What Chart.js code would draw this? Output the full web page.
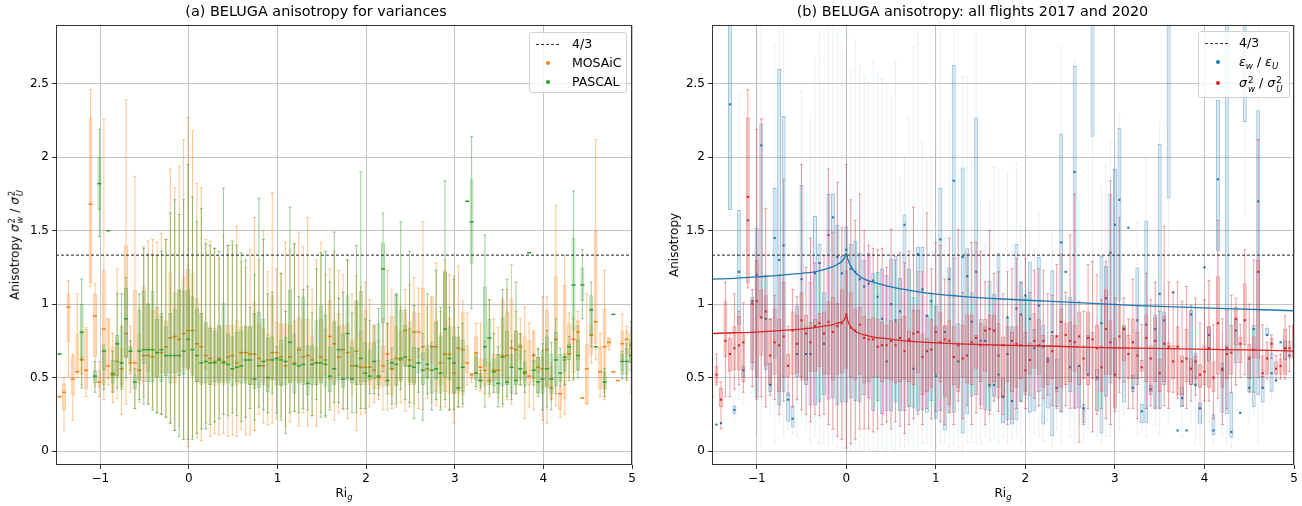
<!DOCTYPE html>
<html>
<head>
<meta charset="utf-8">
<title>BELUGA anisotropy</title>
<script src="https://cdn.jsdelivr.net/npm/chart.js@4.4.1/dist/chart.umd.min.js"></script>
<style>
  body { margin: 0; background: #fff; font-family: "DejaVu Sans", sans-serif; }
  #wrap { position: relative; width: 1302px; height: 506px; overflow: hidden; }
  .panel { position: absolute; top: 0; width: 651px; height: 506px; }
  .axlab { position: absolute; font-size: 12px; color: #000; white-space: nowrap; transform: translate(-50%, -50%); }
  .ylab { transform: translate(-50%, -50%) rotate(-90deg); }
  .ss { display: inline-flex; flex-direction: column; font-size: 0.7em; line-height: 0.95; vertical-align: 0.42em; margin-left: 1px; }
  .sub { font-size: 0.7em; vertical-align: -0.3em; }
  .legend { position: absolute; background: rgba(255,255,255,0.8); border: 1px solid #d0d0d0; border-radius: 3px; font-size: 12.5px; }
  .legend .row { position: absolute; left: 0; height: 18px; line-height: 18px; white-space: nowrap; }
  .legend .dash { position: absolute; top: 9px; height: 1px; background: repeating-linear-gradient(to right, #333 0 3px, transparent 3px 5px); }
  .legend .dot { position: absolute; top: 7px; width: 4px; height: 4px; border-radius: 2px; }
  .legend .txt { position: absolute; }
</style>
</head>
<body>
<div id="wrap">
  <div class="panel" style="left:0"><canvas id="chartA"></canvas></div>
  <div class="panel" style="left:651px"><canvas id="chartB"></canvas></div>

  <div class="axlab ylab" style="left:16px;top:245px">Anisotropy <i>σ</i><span class="ss"><span>2</span><span><i>w</i></span></span> / <i>σ</i><span class="ss"><span>2</span><span><i>U</i></span></span></div>
  <div class="axlab" style="left:344px;top:494px">Ri<span class="sub"><i>g</i></span></div>
  <div class="axlab ylab" style="left:674px;top:245px">Anisotropy</div>
  <div class="axlab" style="left:1003px;top:494px">Ri<span class="sub"><i>g</i></span></div>

  <div class="legend" style="left:529px;top:32px;width:96px;height:59px">
    <div class="row" style="top:2px"><div class="dash" style="left:6px;width:24px"></div><span class="txt" style="left:42px">4/3</span></div>
    <div class="row" style="top:21px"><div class="dot" style="left:16px;background:#ff7f0e"></div><span class="txt" style="left:42px">MOSAiC</span></div>
    <div class="row" style="top:40px"><div class="dot" style="left:16px;background:#2ca02c"></div><span class="txt" style="left:42px">PASCAL</span></div>
  </div>

  <div class="legend" style="left:1198px;top:31px;width:90px;height:65px">
    <div class="row" style="top:2px"><div class="dash" style="left:6px;width:24px"></div><span class="txt" style="left:40px">4/3</span></div>
    <div class="row" style="top:21px"><div class="dot" style="left:17px;background:#1f77b4"></div><span class="txt" style="left:40px"><i>ε</i><span class="sub"><i>w</i></span> / <i>ε</i><span class="sub"><i>U</i></span></span></div>
    <div class="row" style="top:42px"><div class="dot" style="left:17px;background:#d62728"></div><span class="txt" style="left:40px"><i>σ</i><span class="ss"><span>2</span><span><i>w</i></span></span> / <i>σ</i><span class="ss"><span>2</span><span><i>U</i></span></span></span></div>
  </div>
</div>

<script>
// Axis ticks and reference level
const riTicks = [-1, 0, 1, 2, 3, 4, 5];
const anisoTicks = [0, 0.5, 1, 1.5, 2, 2.5];
const isoRatio = 4 / 3;

// Box rows: [Ri_g, whisker low, Q1, median, Q3, whisker high]
const mosaicBoxes = [
  [-1.46, 0.37, 0.37, 0.37, 0.37, 0.37], [-1.41, 0.14, 0.28, 0.40, 0.46, 0.50],
  [-1.36, 0.51, 0.74, 0.98, 1.07, 1.16], [-1.31, 0.21, 0.38, 0.49, 0.65, 0.66],
  [-1.26, 0.50, 0.53, 0.54, 0.80, 1.07], [-1.21, 0.45, 0.52, 0.62, 0.64, 0.80],
  [-1.16, 0.37, 0.42, 0.55, 0.83, 0.84], [-1.11, 1.12, 1.14, 1.68, 2.27, 2.46],
  [-1.06, 0.44, 0.64, 0.92, 1.07, 1.14], [-1.01, 0.37, 0.43, 0.47, 0.55, 0.61],
  [-0.96, 0.35, 0.45, 0.83, 1.23, 2.26], [-0.91, 0.45, 0.49, 0.58, 0.90, 0.90],
  [-0.86, 0.33, 0.40, 0.53, 0.71, 0.80], [-0.81, 0.36, 0.50, 0.61, 0.75, 1.24],
  [-0.76, 0.25, 0.45, 0.56, 0.70, 0.85], [-0.71, 0.32, 0.63, 0.80, 1.40, 2.39],
  [-0.66, 0.40, 0.52, 0.60, 0.72, 0.85], [-0.61, 0.29, 0.52, 0.60, 1.10, 1.87],
  [-0.56, 0.33, 0.46, 0.55, 0.80, 0.98], [-0.51, 0.37, 0.47, 0.65, 1.12, 1.39],
  [-0.46, 0.32, 0.54, 0.65, 1.01, 1.43], [-0.41, 0.30, 0.51, 0.64, 0.96, 1.44],
  [-0.36, 0.26, 0.50, 0.67, 0.98, 1.42], [-0.31, 0.25, 0.53, 0.67, 0.92, 1.48],
  [-0.26, 0.23, 0.53, 0.71, 0.89, 1.44], [-0.21, 0.19, 0.53, 0.77, 1.22, 1.92],
  [-0.16, 0.14, 0.46, 0.78, 1.08, 1.79], [-0.11, 0.17, 0.54, 0.76, 1.10, 1.94],
  [-0.06, 0.08, 0.57, 0.80, 1.19, 2.12], [-0.01, 0.03, 0.55, 0.82, 1.24, 2.27],
  [0.04, 0.10, 0.53, 0.82, 1.21, 2.18], [0.09, 0.09, 0.47, 0.73, 1.04, 1.82],
  [0.14, 0.07, 0.45, 0.71, 0.94, 1.79], [0.19, 0.19, 0.55, 0.65, 0.87, 1.44],
  [0.24, 0.10, 0.45, 0.63, 0.85, 1.43], [0.29, 0.12, 0.44, 0.61, 0.84, 1.38],
  [0.34, 0.11, 0.48, 0.63, 0.85, 1.31], [0.39, 0.12, 0.45, 0.61, 0.85, 1.47],
  [0.44, 0.10, 0.48, 0.64, 0.86, 1.40], [0.49, 0.11, 0.51, 0.65, 0.86, 1.40],
  [0.54, 0.10, 0.45, 0.60, 0.89, 1.53], [0.59, 0.15, 0.50, 0.67, 0.85, 1.29],
  [0.64, 0.11, 0.48, 0.67, 0.85, 1.25], [0.69, 0.11, 0.45, 0.66, 0.85, 1.37],
  [0.74, 0.14, 0.45, 0.66, 1.02, 1.59], [0.79, 0.25, 0.50, 0.63, 0.87, 1.30],
  [0.84, 0.19, 0.47, 0.58, 0.84, 1.50], [0.89, 0.18, 0.44, 0.62, 0.80, 1.22],
  [0.94, 0.19, 0.49, 0.67, 1.06, 1.76], [0.99, 0.22, 0.48, 0.67, 0.88, 1.24],
  [1.04, 0.23, 0.45, 0.64, 0.87, 1.21], [1.09, 0.17, 0.49, 0.58, 0.87, 1.42],
  [1.14, 0.20, 0.47, 0.64, 0.86, 1.37], [1.19, 0.27, 0.48, 0.60, 0.89, 1.41],
  [1.24, 0.17, 0.47, 0.69, 0.91, 1.49], [1.29, 0.26, 0.47, 0.64, 0.90, 1.39],
  [1.34, 0.17, 0.47, 0.65, 0.90, 1.59], [1.39, 0.24, 0.50, 0.62, 0.78, 1.10],
  [1.44, 0.17, 0.45, 0.60, 0.71, 1.30], [1.49, 0.26, 0.48, 0.64, 0.90, 1.42],
  [1.54, 0.23, 0.51, 0.62, 0.83, 1.20], [1.59, 0.30, 0.48, 0.78, 1.03, 1.24],
  [1.64, 0.21, 0.46, 0.73, 0.89, 1.36], [1.69, 0.26, 0.51, 0.64, 0.94, 1.23],
  [1.74, 0.28, 0.50, 0.69, 0.86, 1.20], [1.79, 0.22, 0.49, 0.67, 0.87, 1.30],
  [1.84, 0.39, 0.48, 0.58, 0.76, 1.07], [1.89, 0.14, 0.45, 0.68, 1.03, 1.19],
  [1.94, 0.25, 0.47, 0.57, 0.82, 1.12], [1.99, 0.26, 0.45, 0.57, 0.96, 1.15],
  [2.04, 0.30, 0.45, 0.57, 0.74, 1.03], [2.09, 0.33, 0.42, 0.55, 0.85, 0.86],
  [2.14, 0.35, 0.42, 0.50, 0.62, 0.75], [2.19, 0.28, 0.44, 0.58, 0.72, 0.90],
  [2.24, 0.28, 0.45, 0.66, 0.87, 1.23], [2.29, 0.29, 0.38, 0.56, 0.92, 1.10],
  [2.34, 0.30, 0.44, 0.63, 0.85, 1.06], [2.39, 0.33, 0.47, 0.62, 0.82, 0.98],
  [2.44, 0.27, 0.58, 0.82, 0.95, 1.10], [2.49, 0.30, 0.45, 0.62, 0.88, 1.13],
  [2.54, 0.32, 0.45, 0.81, 0.95, 1.18], [2.59, 0.29, 0.63, 0.81, 0.94, 1.11],
  [2.64, 0.28, 0.62, 0.71, 1.11, 1.56], [2.69, 0.36, 0.50, 0.56, 0.70, 0.98],
  [2.74, 0.33, 0.60, 0.71, 1.05, 1.05], [2.79, 0.31, 0.40, 0.71, 0.89, 1.28],
  [2.84, 0.30, 0.45, 0.60, 0.80, 0.95], [2.89, 0.30, 0.40, 0.66, 1.23, 1.30],
  [2.94, 0.28, 0.39, 0.66, 0.91, 1.20], [2.99, 0.19, 0.39, 0.53, 0.85, 1.19],
  [3.04, 0.30, 0.39, 0.70, 0.78, 1.26], [3.09, 0.30, 0.38, 0.69, 0.95, 1.02],
  [3.14, 0.45, 0.53, 0.60, 0.72, 0.94], [3.19, 0.47, 0.49, 0.52, 0.53, 0.53],
  [3.24, 0.42, 0.53, 0.67, 0.78, 0.87], [3.29, 0.41, 0.47, 0.57, 0.63, 0.87],
  [3.34, 0.39, 0.44, 0.55, 0.63, 0.75], [3.39, 0.37, 0.46, 0.48, 0.61, 1.03],
  [3.44, 0.40, 0.48, 0.55, 0.66, 0.90], [3.49, 0.36, 0.48, 0.55, 0.66, 0.84],
  [3.54, 0.30, 0.51, 0.65, 1.03, 1.04], [3.59, 0.35, 0.46, 0.65, 0.95, 1.10],
  [3.64, 0.32, 0.58, 0.70, 1.04, 1.27], [3.69, 0.39, 0.48, 0.69, 0.82, 0.95],
  [3.74, 0.45, 0.62, 0.71, 0.80, 0.90], [3.79, 0.22, 0.48, 0.54, 0.78, 0.98],
  [3.84, 0.30, 0.45, 0.51, 0.75, 0.87], [3.89, 0.28, 0.47, 0.65, 0.81, 0.82],
  [3.94, 0.40, 0.53, 0.57, 0.64, 0.69], [3.99, 0.21, 0.42, 0.56, 0.64, 1.05],
  [4.04, 0.19, 0.44, 0.69, 0.96, 1.05], [4.09, 0.35, 0.35, 0.43, 0.58, 0.60],
  [4.14, 0.31, 0.62, 0.76, 1.19, 1.67], [4.19, 0.23, 0.28, 0.39, 0.43, 0.50],
  [4.24, 0.25, 0.35, 0.62, 1.13, 1.33], [4.29, 0.50, 0.66, 0.66, 0.87, 0.94],
  [4.34, 0.48, 0.53, 0.76, 0.85, 0.90], [4.39, 0.55, 0.62, 0.81, 0.89, 0.95],
  [4.44, 0.36, 0.36, 0.36, 0.36, 0.36], [4.49, 0.32, 0.32, 0.56, 0.73, 1.07],
  [4.54, 0.60, 0.65, 0.79, 0.86, 0.97], [4.59, 0.62, 0.73, 0.88, 1.50, 2.12],
  [4.64, 0.37, 0.42, 0.54, 0.71, 0.80], [4.69, 0.35, 0.39, 0.71, 0.97, 1.23],
  [4.74, 0.69, 0.71, 0.74, 0.77, 0.77], [4.79, 0.54, 0.54, 0.54, 0.54, 0.54],
  [4.84, 0.48, 0.48, 0.48, 0.48, 0.48], [4.89, 0.55, 0.62, 0.73, 0.82, 0.93],
  [4.94, 0.48, 0.66, 0.76, 0.82, 0.85], [4.99, 0.40, 0.60, 0.72, 0.80, 0.84]
];

const pascalBoxes = [
  [-1.46, 0.66, 0.66, 0.66, 0.66, 0.66], [-1.21, 0.43, 0.62, 0.81, 1.00, 1.17],
  [-1.06, 0.40, 0.46, 0.51, 0.55, 0.61], [-1.01, 1.46, 1.64, 1.82, 2.00, 2.19],
  [-0.96, 0.42, 0.55, 0.68, 0.70, 0.72], [-0.91, 1.50, 1.50, 1.50, 1.50, 1.50],
  [-0.86, 0.40, 0.46, 0.52, 0.62, 0.68], [-0.81, 0.43, 0.51, 0.73, 0.79, 1.07],
  [-0.76, 0.42, 0.43, 0.60, 0.85, 1.07], [-0.71, 0.50, 0.64, 0.90, 1.11, 1.18],
  [-0.66, 0.55, 0.61, 0.68, 0.71, 0.75], [-0.61, 0.29, 0.42, 0.47, 0.52, 0.56],
  [-0.56, 0.35, 0.48, 0.68, 0.96, 1.07], [-0.51, 0.32, 0.59, 0.69, 1.09, 1.38],
  [-0.46, 0.32, 0.47, 0.69, 1.00, 1.34], [-0.41, 0.28, 0.47, 0.69, 1.09, 1.34],
  [-0.36, 0.26, 0.50, 0.67, 0.90, 1.33], [-0.31, 0.25, 0.47, 0.69, 0.94, 1.36],
  [-0.26, 0.23, 0.51, 0.65, 0.85, 1.44], [-0.21, 0.19, 0.46, 0.65, 0.94, 1.62],
  [-0.16, 0.14, 0.53, 0.65, 0.97, 1.71], [-0.11, 0.10, 0.51, 0.65, 1.10, 1.61],
  [-0.06, 0.08, 0.52, 0.68, 1.09, 1.71], [-0.01, 0.08, 0.56, 0.76, 1.10, 1.95],
  [0.04, 0.08, 0.51, 0.69, 1.05, 1.73], [0.09, 0.12, 0.47, 0.65, 0.97, 1.56],
  [0.14, 0.15, 0.46, 0.60, 0.94, 1.65], [0.19, 0.15, 0.46, 0.61, 0.88, 1.41],
  [0.24, 0.18, 0.45, 0.60, 0.84, 1.40], [0.29, 0.20, 0.47, 0.60, 0.82, 1.38],
  [0.34, 0.22, 0.46, 0.62, 0.86, 1.36], [0.39, 0.25, 0.47, 0.60, 1.01, 1.79],
  [0.44, 0.24, 0.46, 0.59, 0.80, 1.40], [0.49, 0.26, 0.44, 0.56, 0.78, 1.43],
  [0.54, 0.24, 0.47, 0.57, 0.81, 1.40], [0.59, 0.20, 0.46, 0.58, 0.82, 1.35],
  [0.64, 0.23, 0.46, 0.62, 0.85, 1.30], [0.69, 0.29, 0.45, 0.62, 0.85, 0.98],
  [0.74, 0.21, 0.42, 0.49, 0.94, 1.20], [0.79, 0.30, 0.43, 0.58, 0.95, 1.72],
  [0.84, 0.28, 0.45, 0.61, 0.90, 1.44], [0.89, 0.26, 0.40, 0.50, 0.77, 1.07],
  [0.94, 0.39, 0.48, 0.62, 0.78, 1.08], [0.99, 0.26, 0.45, 0.63, 0.64, 0.71],
  [1.04, 0.21, 0.44, 0.62, 0.76, 1.21], [1.09, 0.12, 0.45, 0.61, 0.78, 0.95],
  [1.14, 0.26, 0.46, 0.74, 1.10, 1.66], [1.19, 0.27, 0.39, 0.59, 0.80, 1.41],
  [1.24, 0.26, 0.46, 0.58, 0.71, 1.05], [1.29, 0.29, 0.45, 0.59, 1.05, 1.10],
  [1.34, 0.28, 0.38, 0.46, 0.72, 1.12], [1.39, 0.24, 0.45, 0.59, 0.72, 0.94],
  [1.44, 0.35, 0.45, 0.60, 0.89, 1.24], [1.49, 0.23, 0.46, 0.60, 0.99, 1.35],
  [1.54, 0.24, 0.44, 0.59, 0.93, 1.36], [1.59, 0.28, 0.40, 0.51, 0.71, 1.15],
  [1.64, 0.33, 0.45, 0.56, 0.88, 1.49], [1.69, 0.33, 0.48, 0.69, 0.85, 1.04],
  [1.74, 0.29, 0.43, 0.49, 0.80, 1.08], [1.79, 0.29, 0.48, 0.80, 1.06, 1.30],
  [1.84, 0.26, 0.46, 0.49, 0.71, 0.94], [1.89, 0.26, 0.45, 0.58, 1.02, 1.40],
  [1.94, 0.29, 0.45, 0.63, 1.09, 1.90], [1.99, 0.29, 0.47, 0.53, 0.74, 0.90],
  [2.04, 0.39, 0.48, 0.51, 0.69, 0.89], [2.09, 0.39, 0.49, 0.61, 0.74, 0.85],
  [2.14, 0.38, 0.45, 0.51, 0.87, 0.97], [2.19, 0.54, 0.87, 1.24, 1.42, 1.62],
  [2.24, 0.39, 0.44, 0.48, 0.62, 0.87], [2.29, 0.32, 0.55, 0.60, 0.63, 0.70],
  [2.34, 0.32, 0.45, 0.59, 1.07, 1.07], [2.39, 0.42, 0.48, 0.63, 0.96, 1.56],
  [2.44, 0.35, 0.57, 0.64, 0.86, 0.96], [2.49, 0.33, 0.47, 0.58, 0.84, 1.36],
  [2.54, 0.22, 0.46, 0.57, 0.71, 0.99], [2.59, 0.40, 0.53, 0.60, 0.70, 0.70],
  [2.64, 0.21, 0.45, 0.55, 0.67, 0.80], [2.69, 0.39, 0.49, 0.59, 0.72, 1.07],
  [2.74, 0.28, 0.39, 0.55, 0.72, 0.74], [2.79, 0.35, 0.49, 0.56, 0.88, 1.23],
  [2.84, 0.28, 0.39, 0.53, 0.78, 0.98], [2.89, 0.35, 0.50, 0.83, 1.22, 1.84],
  [2.94, 0.28, 0.48, 0.63, 0.85, 0.98], [2.99, 0.28, 0.39, 0.60, 0.78, 1.17],
  [3.04, 0.30, 0.41, 0.43, 0.78, 0.84], [3.09, 0.32, 0.40, 0.57, 0.76, 0.87],
  [3.14, 1.70, 1.70, 1.70, 1.70, 1.70], [3.19, 0.97, 1.27, 1.56, 1.85, 2.14],
  [3.24, 0.44, 0.48, 0.53, 0.64, 0.66], [3.29, 0.43, 0.44, 0.48, 0.53, 0.55],
  [3.34, 0.30, 0.57, 0.71, 1.12, 1.47], [3.39, 0.39, 0.45, 0.77, 0.90, 1.03],
  [3.44, 0.40, 0.44, 0.54, 0.63, 0.80], [3.49, 0.30, 0.39, 0.46, 0.66, 0.71],
  [3.54, 0.32, 0.44, 0.64, 0.91, 1.10], [3.59, 0.37, 0.45, 0.47, 0.82, 1.17],
  [3.64, 0.35, 0.39, 0.57, 0.66, 0.75], [3.69, 0.39, 0.45, 0.48, 0.82, 1.15],
  [3.74, 0.45, 0.48, 0.56, 0.73, 0.80], [3.79, 0.40, 0.44, 0.53, 0.61, 0.68],
  [3.84, 1.35, 1.35, 1.35, 1.35, 1.35], [3.89, 0.45, 0.49, 0.55, 0.62, 0.66],
  [3.94, 0.37, 0.39, 0.47, 0.64, 0.70], [3.99, 0.28, 0.39, 0.49, 0.69, 0.73],
  [4.04, 0.30, 0.43, 0.56, 0.78, 0.82], [4.09, 0.28, 0.39, 0.49, 0.66, 0.74],
  [4.14, 0.39, 0.44, 0.62, 0.81, 0.90], [4.19, 0.44, 0.47, 0.53, 0.66, 0.70],
  [4.24, 0.45, 0.54, 0.64, 0.64, 0.66], [4.29, 0.48, 0.62, 0.71, 0.73, 0.78],
  [4.34, 0.49, 0.82, 1.13, 1.45, 1.77], [4.39, 0.50, 0.55, 0.65, 0.76, 0.85],
  [4.44, 0.90, 1.02, 1.13, 1.25, 1.37], [4.54, 0.71, 0.78, 0.96, 1.06, 1.15],
  [4.59, 0.71, 0.71, 0.71, 0.71, 0.71], [4.69, 0.37, 0.42, 0.47, 0.54, 0.56],
  [4.79, 0.93, 0.93, 0.93, 0.93, 0.93], [4.89, 0.49, 0.52, 0.61, 0.66, 0.68],
  [4.94, 0.49, 0.52, 0.61, 0.70, 0.73], [4.99, 0.55, 0.60, 0.65, 0.75, 0.88]
];

const epsBoxes = [
  [-1.50, 0.05, 0.05, 0.05, 0.05, 0.05], [-1.45, 0.18, 0.18, 0.18, 0.18, 0.18],
  [-1.40, 0.19, 0.19, 0.19, 0.19, 0.19], [-1.30, 1.60, 1.64, 2.36, 3.30, 3.60],
  [-1.25, 0.20, 0.25, 0.28, 0.31, 0.36], [-1.20, 0.35, 0.86, 1.22, 1.64, 2.43],
  [-1.15, 0.32, 0.50, 0.55, 0.58, 0.75], [-1.10, 1.57, 1.57, 1.57, 1.57, 1.57],
  [-1.05, 0.40, 0.55, 1.02, 1.05, 1.10], [-1.00, 0.12, 0.36, 1.20, 1.52, 3.20],
  [-0.95, 0.03, 0.90, 2.08, 2.23, 3.50], [-0.90, 0.30, 0.55, 0.90, 1.20, 1.70],
  [-0.85, 0.25, 0.40, 0.45, 0.60, 0.90], [-0.80, 0.05, 0.63, 1.45, 1.79, 2.77],
  [-0.75, 0.20, 0.31, 1.30, 2.60, 3.50], [-0.70, 0.10, 0.40, 1.40, 2.28, 3.50],
  [-0.65, 0.15, 0.20, 0.35, 0.40, 0.45], [-0.60, 0.12, 0.16, 0.22, 0.31, 0.50],
  [-0.55, 0.10, 0.50, 0.66, 0.99, 1.50], [-0.50, 0.20, 0.50, 1.17, 1.81, 2.45],
  [-0.45, 0.15, 0.45, 0.66, 0.85, 1.55], [-0.40, 0.05, 0.31, 0.66, 1.15, 2.29],
  [-0.35, 0.10, 0.31, 1.21, 1.60, 2.68], [-0.30, 0.05, 0.33, 1.28, 1.41, 2.85],
  [-0.25, 0.05, 0.38, 0.73, 1.08, 2.50], [-0.20, 0.05, 0.35, 1.47, 1.75, 3.00],
  [-0.15, 0.05, 0.36, 1.59, 1.75, 3.00], [-0.10, 0.02, 0.31, 1.32, 1.54, 2.85],
  [-0.05, 0.02, 0.33, 1.21, 1.33, 2.70], [0.00, 0.00, 0.33, 1.37, 1.53, 2.84],
  [0.05, 0.00, 0.36, 1.24, 1.41, 2.60], [0.10, 0.00, 0.34, 1.22, 1.43, 2.80],
  [0.15, 0.00, 0.33, 1.17, 1.35, 2.63], [0.20, 0.00, 0.38, 1.12, 1.30, 2.55],
  [0.25, 0.01, 0.36, 1.14, 1.35, 2.51], [0.30, 0.00, 0.27, 1.16, 1.21, 2.65],
  [0.35, 0.00, 0.34, 1.05, 1.22, 2.58], [0.40, 0.02, 0.25, 0.90, 1.24, 2.53],
  [0.45, 0.00, 0.27, 0.61, 1.20, 2.50], [0.50, 0.02, 0.27, 1.00, 1.31, 2.40],
  [0.55, 0.01, 0.33, 0.89, 1.33, 2.65], [0.60, 0.03, 0.27, 0.95, 1.18, 1.86],
  [0.65, 0.02, 0.27, 1.54, 1.61, 2.00], [0.70, 0.05, 0.30, 0.75, 1.24, 2.27],
  [0.75, 0.03, 0.29, 0.56, 1.05, 2.75], [0.80, 0.02, 0.27, 1.34, 1.39, 2.85],
  [0.85, 0.05, 0.28, 1.10, 1.39, 2.10], [0.90, 0.05, 0.26, 0.92, 0.93, 1.97],
  [0.95, 0.03, 0.34, 1.02, 1.08, 2.00], [1.00, 0.03, 0.22, 0.51, 0.99, 2.09],
  [1.05, 0.05, 0.27, 1.44, 1.79, 2.90], [1.10, 0.06, 0.14, 0.81, 0.85, 1.45],
  [1.15, 0.03, 0.26, 1.17, 1.25, 2.28], [1.20, 0.05, 0.26, 1.84, 2.63, 3.00],
  [1.25, 0.02, 0.43, 0.61, 0.87, 1.90], [1.30, 0.00, 0.12, 1.32, 1.93, 2.55],
  [1.35, 0.06, 0.25, 1.19, 1.38, 2.55], [1.40, 0.06, 0.37, 0.88, 1.08, 1.97],
  [1.45, 0.05, 0.38, 1.22, 2.27, 2.84], [1.50, 0.05, 0.31, 0.75, 0.90, 1.70],
  [1.55, 0.10, 0.28, 0.75, 0.85, 1.40], [1.60, 0.07, 0.27, 0.45, 1.16, 1.70],
  [1.65, 0.08, 0.37, 0.45, 1.07, 1.93], [1.70, 0.05, 0.43, 0.52, 1.35, 1.91],
  [1.75, 0.10, 0.19, 0.37, 0.50, 0.75], [1.80, 0.05, 0.21, 0.91, 0.91, 1.90],
  [1.85, 0.08, 0.18, 0.34, 0.85, 1.40], [1.90, 0.10, 0.21, 0.97, 1.41, 1.96],
  [1.95, 0.05, 0.33, 0.93, 1.15, 1.53], [2.00, 0.05, 0.40, 1.06, 1.06, 1.50],
  [2.05, 0.15, 0.26, 0.90, 1.29, 1.47], [2.10, 0.12, 0.27, 0.70, 0.83, 1.38],
  [2.15, 0.10, 0.40, 0.99, 1.32, 1.62], [2.20, 0.07, 0.18, 0.71, 0.86, 1.20],
  [2.25, 0.20, 0.29, 0.63, 0.63, 0.80], [2.30, 0.03, 0.10, 0.81, 1.23, 1.48],
  [2.35, 0.15, 0.30, 0.43, 0.63, 0.95], [2.40, 0.05, 0.26, 1.42, 2.16, 2.75],
  [2.45, 1.22, 1.22, 1.22, 1.22, 1.22], [2.50, 0.10, 0.40, 0.57, 1.05, 1.20],
  [2.55, 0.05, 0.29, 1.90, 2.62, 2.66], [2.60, 0.18, 0.29, 0.58, 0.58, 0.80],
  [2.65, 0.05, 0.19, 0.29, 0.32, 0.70], [2.70, 0.15, 0.52, 0.52, 0.79, 0.95],
  [2.75, 0.30, 2.14, 3.20, 3.50, 3.60], [2.80, 0.10, 0.27, 0.50, 0.56, 0.90],
  [2.85, 0.05, 0.12, 0.87, 1.33, 1.80], [2.90, 0.10, 0.37, 1.04, 1.26, 1.95],
  [2.95, 0.10, 0.46, 1.35, 1.75, 2.10], [3.00, 0.08, 0.50, 1.54, 1.92, 2.10],
  [3.05, 0.15, 1.02, 1.71, 2.20, 2.30], [3.10, 0.25, 0.33, 0.83, 0.86, 1.20],
  [3.15, 1.52, 1.52, 1.52, 1.52, 1.52], [3.20, 0.30, 0.40, 0.43, 0.52, 0.70],
  [3.25, 0.12, 0.45, 0.89, 1.25, 1.55], [3.30, 0.15, 0.19, 0.27, 0.32, 0.50],
  [3.35, 0.10, 0.19, 0.86, 1.57, 2.00], [3.40, 0.25, 0.38, 0.42, 0.45, 0.60],
  [3.45, 0.18, 0.29, 0.83, 0.93, 1.20], [3.50, 0.12, 0.29, 1.07, 2.09, 2.24],
  [3.55, 0.35, 0.45, 0.89, 0.95, 1.10], [3.60, 0.20, 1.72, 2.90, 3.40, 3.60],
  [3.65, 1.08, 1.08, 1.08, 1.08, 1.08], [3.70, 0.14, 0.14, 0.14, 0.14, 0.14],
  [3.75, 0.10, 0.30, 0.36, 0.44, 0.60], [3.80, 0.14, 0.14, 0.14, 0.14, 0.14],
  [3.85, 0.20, 0.45, 0.93, 0.96, 1.00], [3.90, 0.05, 0.44, 0.45, 0.67, 0.80],
  [3.95, 0.05, 0.18, 0.29, 0.33, 0.45], [4.00, 1.25, 1.25, 1.25, 1.25, 1.25],
  [4.05, 0.20, 0.61, 0.79, 0.85, 1.22], [4.10, 0.05, 0.11, 0.14, 0.25, 0.30],
  [4.15, 0.50, 1.36, 1.85, 2.39, 2.45], [4.20, 0.12, 0.26, 0.55, 0.60, 0.80],
  [4.25, 0.05, 0.25, 0.70, 3.20, 3.50], [4.30, 0.02, 0.09, 0.13, 0.40, 0.50],
  [4.35, 0.28, 0.60, 0.82, 0.90, 0.95], [4.40, 0.26, 0.26, 0.26, 0.26, 0.26],
  [4.45, 1.60, 2.24, 2.90, 3.20, 3.50], [4.50, 0.20, 0.40, 0.43, 0.65, 0.90],
  [4.55, 0.25, 0.30, 0.83, 0.86, 0.90], [4.60, 0.05, 0.38, 1.70, 2.32, 2.90],
  [4.65, 0.20, 0.33, 0.43, 0.51, 0.55], [4.70, 0.55, 0.79, 0.79, 0.84, 0.86],
  [4.75, 0.35, 0.40, 0.53, 0.67, 0.75], [4.80, 0.48, 0.48, 0.48, 0.48, 0.48],
  [4.85, 0.74, 0.74, 0.74, 0.74, 0.74], [4.90, 0.55, 0.62, 0.70, 0.75, 0.78],
  [4.95, 0.65, 0.65, 0.65, 0.65, 0.65], [5.00, 1.43, 1.43, 1.43, 1.43, 1.43]
];

const sigmaBoxes = [
  [-1.50, 0.37, 0.37, 0.37, 0.37, 0.37], [-1.45, 0.45, 0.46, 0.52, 0.58, 0.66],
  [-1.40, 0.15, 0.30, 0.35, 0.43, 0.47], [-1.35, 0.37, 0.64, 0.75, 1.02, 1.15],
  [-1.30, 0.37, 0.54, 0.66, 0.77, 0.80], [-1.25, 0.42, 0.55, 0.70, 0.85, 1.07],
  [-1.20, 0.45, 0.55, 0.72, 0.92, 0.95], [-1.15, 0.40, 0.47, 0.74, 0.80, 1.01],
  [-1.10, 1.11, 1.14, 1.73, 2.27, 2.46], [-1.05, 0.44, 0.60, 1.00, 1.03, 1.10],
  [-1.00, 0.35, 0.50, 1.02, 1.30, 2.19], [-0.95, 0.37, 0.65, 0.91, 1.10, 2.26],
  [-0.90, 0.30, 0.58, 0.95, 1.06, 1.65], [-0.85, 0.38, 0.45, 0.65, 0.90, 0.90],
  [-0.80, 0.35, 0.52, 0.74, 0.97, 1.06], [-0.75, 0.25, 0.40, 0.72, 0.90, 1.20],
  [-0.70, 0.34, 0.50, 0.78, 1.15, 1.85], [-0.65, 0.38, 0.50, 0.58, 0.66, 0.85],
  [-0.60, 0.30, 0.52, 0.82, 0.95, 1.10], [-0.55, 0.35, 0.53, 0.73, 0.93, 1.05],
  [-0.50, 0.28, 0.48, 0.89, 1.08, 1.95], [-0.45, 0.25, 0.48, 0.80, 0.93, 1.25],
  [-0.40, 0.20, 0.54, 0.74, 0.88, 1.45], [-0.35, 0.25, 0.54, 0.85, 0.90, 1.28],
  [-0.30, 0.24, 0.57, 0.87, 0.94, 1.28], [-0.25, 0.25, 0.52, 0.80, 0.95, 1.33],
  [-0.20, 0.18, 0.52, 0.88, 1.02, 1.92], [-0.15, 0.15, 0.48, 0.81, 1.05, 1.49],
  [-0.10, 0.10, 0.52, 0.85, 1.01, 1.83], [-0.05, 0.08, 0.53, 0.87, 1.10, 1.52],
  [0.00, 0.02, 0.56, 0.93, 1.23, 1.95], [0.05, 0.05, 0.50, 0.84, 1.08, 1.71],
  [0.10, 0.08, 0.48, 0.82, 0.97, 1.57], [0.15, 0.15, 0.52, 0.86, 0.98, 1.75],
  [0.20, 0.15, 0.46, 0.77, 0.92, 1.50], [0.25, 0.15, 0.47, 0.76, 0.90, 1.40],
  [0.30, 0.13, 0.50, 0.76, 0.91, 1.38], [0.35, 0.15, 0.50, 0.71, 0.90, 1.37],
  [0.40, 0.18, 0.47, 0.72, 0.88, 1.38], [0.45, 0.20, 0.49, 0.72, 0.86, 1.25],
  [0.50, 0.15, 0.48, 0.75, 0.89, 1.51], [0.55, 0.20, 0.46, 0.72, 0.88, 1.30],
  [0.60, 0.17, 0.47, 0.77, 0.90, 1.35], [0.65, 0.12, 0.48, 0.68, 0.92, 1.28],
  [0.70, 0.18, 0.47, 0.76, 0.82, 1.36], [0.75, 0.22, 0.45, 0.80, 0.96, 1.66],
  [0.80, 0.25, 0.53, 0.81, 0.96, 1.22], [0.85, 0.18, 0.38, 0.64, 0.80, 1.22],
  [0.90, 0.29, 0.40, 0.68, 0.77, 1.62], [0.95, 0.22, 0.43, 0.69, 0.90, 1.24],
  [1.00, 0.27, 0.52, 0.81, 0.85, 1.42], [1.05, 0.20, 0.47, 0.74, 0.95, 1.40],
  [1.10, 0.18, 0.37, 0.76, 0.86, 1.17], [1.15, 0.26, 0.31, 0.75, 0.89, 1.45],
  [1.20, 0.18, 0.45, 0.64, 0.85, 1.31], [1.25, 0.34, 0.40, 0.72, 0.74, 1.51],
  [1.30, 0.22, 0.50, 0.63, 0.86, 1.08], [1.35, 0.31, 0.46, 0.65, 0.93, 1.34],
  [1.40, 0.18, 0.45, 0.74, 0.93, 1.42], [1.45, 0.26, 0.56, 0.77, 0.79, 1.42],
  [1.50, 0.29, 0.47, 0.72, 0.87, 1.36], [1.55, 0.18, 0.54, 0.82, 0.90, 1.15],
  [1.60, 0.25, 0.43, 0.83, 0.93, 1.50], [1.65, 0.34, 0.47, 0.82, 0.93, 1.21],
  [1.70, 0.27, 0.36, 0.65, 0.87, 1.22], [1.75, 0.25, 0.36, 0.72, 0.78, 1.07],
  [1.80, 0.18, 0.47, 0.66, 0.85, 1.22], [1.85, 0.22, 0.40, 0.75, 0.81, 1.24],
  [1.90, 0.29, 0.43, 0.73, 0.85, 1.31], [1.95, 0.34, 0.49, 0.72, 0.93, 1.15],
  [2.00, 0.29, 0.38, 0.55, 0.81, 1.31], [2.05, 0.38, 0.52, 0.62, 0.74, 1.08],
  [2.10, 0.36, 0.56, 0.75, 0.94, 1.23], [2.15, 0.31, 0.52, 0.72, 0.90, 1.24],
  [2.20, 0.36, 0.43, 0.75, 0.79, 1.23], [2.25, 0.38, 0.45, 0.61, 0.72, 1.07],
  [2.30, 0.31, 0.49, 0.68, 0.79, 1.06], [2.35, 0.29, 0.40, 0.78, 0.79, 1.27],
  [2.40, 0.27, 0.43, 0.88, 0.97, 1.34], [2.45, 0.31, 0.45, 0.79, 0.87, 1.08],
  [2.50, 0.29, 0.47, 0.75, 0.88, 1.47], [2.55, 0.29, 0.54, 0.74, 0.86, 1.75],
  [2.60, 0.06, 0.45, 0.78, 0.95, 1.02], [2.65, 0.18, 0.49, 0.63, 0.72, 0.95],
  [2.70, 0.29, 0.45, 0.77, 0.95, 1.27], [2.75, 0.13, 0.49, 0.76, 0.81, 1.29],
  [2.80, 0.25, 0.48, 0.70, 0.86, 1.20], [2.85, 0.29, 0.40, 0.57, 0.72, 1.03],
  [2.90, 0.22, 0.52, 0.83, 1.10, 1.29], [2.95, 0.18, 0.52, 0.74, 0.89, 1.84],
  [3.00, 0.27, 0.29, 0.52, 0.77, 1.04], [3.05, 0.40, 0.49, 0.78, 1.00, 1.59],
  [3.10, 0.47, 0.61, 0.83, 0.85, 1.04], [3.15, 0.29, 0.49, 0.66, 0.79, 0.90],
  [3.20, 0.29, 0.49, 0.74, 0.90, 1.17], [3.25, 0.22, 0.49, 0.65, 0.81, 0.99],
  [3.30, 0.50, 0.54, 0.57, 0.62, 0.86], [3.35, 0.29, 0.47, 0.77, 0.93, 1.21],
  [3.40, 0.31, 0.40, 0.63, 0.72, 1.03], [3.45, 0.29, 0.47, 0.75, 0.91, 1.15],
  [3.50, 0.29, 0.40, 0.53, 0.63, 0.95], [3.55, 0.31, 0.47, 0.73, 0.92, 1.53],
  [3.60, 0.29, 0.40, 0.71, 0.74, 1.15], [3.65, 0.40, 0.49, 0.61, 0.72, 1.08],
  [3.70, 0.36, 0.38, 0.71, 0.85, 1.15], [3.75, 0.31, 0.38, 0.61, 0.65, 1.02],
  [3.80, 0.29, 0.47, 0.63, 0.83, 1.12], [3.85, 0.34, 0.45, 0.56, 0.63, 0.99],
  [3.90, 0.38, 0.49, 0.61, 0.65, 1.04], [3.95, 0.29, 0.43, 0.52, 0.59, 0.87],
  [4.00, 0.34, 0.45, 0.54, 0.72, 1.03], [4.05, 0.34, 0.43, 0.70, 0.85, 1.16],
  [4.10, 0.22, 0.40, 0.50, 0.61, 0.86], [4.15, 0.36, 0.52, 0.87, 1.19, 1.57],
  [4.20, 0.18, 0.43, 0.56, 0.69, 0.90], [4.25, 0.29, 0.49, 0.66, 0.72, 0.96],
  [4.30, 0.40, 0.52, 0.67, 0.86, 1.06], [4.35, 0.45, 0.72, 0.90, 0.98, 1.04],
  [4.40, 0.50, 0.60, 0.73, 0.78, 0.86], [4.45, 0.52, 0.72, 0.89, 1.14, 1.37],
  [4.50, 0.40, 0.49, 0.63, 0.73, 1.00], [4.55, 0.40, 0.63, 0.69, 0.78, 1.30],
  [4.60, 0.50, 0.63, 1.22, 1.30, 2.12], [4.65, 0.43, 0.50, 0.53, 0.65, 0.86],
  [4.70, 0.49, 0.52, 0.63, 0.69, 0.74], [4.75, 0.63, 0.70, 0.73, 0.77, 0.79],
  [4.80, 0.49, 0.52, 0.56, 0.61, 0.65], [4.85, 0.49, 0.52, 0.58, 0.63, 0.66],
  [4.90, 0.49, 0.52, 0.70, 0.83, 0.92], [4.95, 0.54, 0.63, 0.70, 0.75, 0.85],
  [5.00, 0.49, 0.63, 0.70, 0.86, 0.90]
];

// Fitted anisotropy curves
const fitRi = [-1.5, -1.25, -1.0, -0.75, -0.5, -0.35, -0.25, -0.15, -0.1, -0.05, -0.02, 0,
  0.02, 0.05, 0.1, 0.15, 0.2, 0.3, 0.45, 0.65, 0.9, 1.25, 1.75, 2.25, 2.75, 3.25, 3.75, 4.25, 4.75, 5.0];
const fitEps = [1.17, 1.175, 1.185, 1.195, 1.21, 1.22, 1.235, 1.255, 1.27, 1.29, 1.315, 1.345,
  1.30, 1.26, 1.215, 1.19, 1.17, 1.15, 1.125, 1.10, 1.075, 1.055, 1.035, 1.02, 1.005, 0.99, 0.98, 0.97, 0.96, 0.955];
const fitSigma = [0.80, 0.805, 0.81, 0.82, 0.83, 0.84, 0.85, 0.86, 0.87, 0.88, 0.895, 0.925,
  0.88, 0.845, 0.815, 0.80, 0.79, 0.775, 0.765, 0.75, 0.74, 0.73, 0.72, 0.715, 0.705, 0.70, 0.695, 0.69, 0.685, 0.68];

Chart.defaults.font.family = "'DejaVu Sans', sans-serif";
Chart.defaults.color = '#000';

const minus = v => String(v).replace('-', '\u2212');

// whiskers, boxes, caps and medians for one series
function boxplotDatasets(rows, style) {
  return [
    {
      type: 'bar',
      data: rows.map(r => ({ x: r[0], y: [r[1], r[5]] })),
      backgroundColor: style.whisker,
      borderWidth: 0,
      inflateAmount: 0,
      barThickness: 1,
      maxBarThickness: 1,
      grouped: false
    },
    {
      type: 'bar',
      data: rows.map(r => ({ x: r[0], y: [r[2], r[4]] })),
      backgroundColor: style.fill,
      borderColor: style.edge,
      borderWidth: 1,
      borderSkipped: false,
      inflateAmount: 0,
      barThickness: 4,
      maxBarThickness: 4,
      grouped: false
    },
    {
      type: 'scatter',
      data: rows.flatMap(r => [{ x: r[0], y: r[1] }, { x: r[0], y: r[5] }]),
      pointStyle: 'line',
      pointRadius: 1.5,
      borderColor: style.whisker,
      borderWidth: 1
    },
    {
      type: 'scatter',
      data: rows.map(r => ({ x: r[0], y: r[3] })),
      pointStyle: style.medianStyle,
      pointRadius: style.medianRadius,
      backgroundColor: style.median,
      borderColor: style.median,
      borderWidth: style.medianWidth
    }
  ];
}

function refLine() {
  return {
    type: 'line',
    data: [{ x: -1.5, y: isoRatio }, { x: 5, y: isoRatio }],
    borderColor: '#222',
    borderWidth: 1,
    borderDash: [3, 2],
    pointRadius: 0
  };
}

function fitLine(values, color) {
  return {
    type: 'line',
    data: fitRi.map((r, i) => ({ x: r, y: values[i] })),
    borderColor: color,
    borderWidth: 1.3,
    pointRadius: 0,
    cubicInterpolationMode: 'monotone'
  };
}

// spines on all four sides
const framePlugin = {
  id: 'frame',
  afterDatasetsDraw(chart) {
    const { ctx, chartArea: a } = chart;
    ctx.save();
    ctx.strokeStyle = '#333';
    ctx.lineWidth = 1;
    ctx.strokeRect(Math.round(a.left) + 0.5, Math.round(a.top) + 0.5,
      Math.round(a.right - a.left) - 1, Math.round(a.bottom - a.top) - 1);
    ctx.restore();
  }
};

function makeOptions(title, axisWidth, padRight) {
  return {
    responsive: true,
    maintainAspectRatio: false,
    animation: false,
    events: [],
    layout: { padding: { left: 0, right: padRight, top: 0, bottom: 0 } },
    plugins: {
      legend: { display: false },
      tooltip: { enabled: false },
      title: {
        display: true,
        text: title,
        color: '#000',
        font: { size: 14.4, weight: 'normal' },
        padding: { top: 4, bottom: 3.7 }
      }
    },
    scales: {
      x: {
        type: 'linear',
        min: -1.5,
        max: 5,
        offset: false,
        afterBuildTicks: s => { s.ticks = riTicks.map(v => ({ value: v })); },
        afterFit: s => { s.height = 41; },
        ticks: { font: { size: 12 }, color: '#000', padding: 3, callback: minus, maxRotation: 0 },
        grid: { color: '#c4c4c4', lineWidth: 1, tickLength: 4, tickColor: '#333', offset: false },
        border: { display: false }
      },
      y: {
        type: 'linear',
        min: -0.095,
        max: 2.9,
        afterBuildTicks: s => { s.ticks = anisoTicks.map(v => ({ value: v })); },
        afterFit: s => { s.width = axisWidth; },
        ticks: { font: { size: 12 }, color: '#000', padding: 3, callback: minus },
        grid: { color: '#c4c4c4', lineWidth: 1, tickLength: 4, tickColor: '#333' },
        border: { display: false }
      }
    }
  };
}

// first dataset in the list ends up at the bottom
function stackOrder(list) {
  list.forEach((d, i) => { d.order = list.length - i; });
  return list;
}

const mosaicStyle = {
  whisker: 'rgba(255,127,14,0.45)', fill: 'rgba(255,127,14,0.1)', edge: 'rgba(255,127,14,0.38)',
  median: '#ff7f0e', medianStyle: 'line', medianRadius: 2, medianWidth: 1.5
};
const pascalStyle = {
  whisker: 'rgba(44,160,44,0.5)', fill: 'rgba(44,160,44,0.1)', edge: 'rgba(44,160,44,0.42)',
  median: '#2ca02c', medianStyle: 'line', medianRadius: 2, medianWidth: 1.5
};
const epsStyle = {
  whisker: 'rgba(31,119,180,0.1)', fill: 'rgba(31,119,180,0.1)', edge: 'rgba(31,119,180,0.45)',
  median: '#1f77b4', medianStyle: 'rect', medianRadius: 1.5, medianWidth: 0
};
const sigmaStyle = {
  whisker: 'rgba(214,39,40,0.42)', fill: 'rgba(214,39,40,0.1)', edge: 'rgba(214,39,40,0.42)',
  median: '#d62728', medianStyle: 'rect', medianRadius: 1.5, medianWidth: 0
};

new Chart(document.getElementById('chartA'), {
  type: 'scatter',
  data: {
    datasets: stackOrder([
      ...boxplotDatasets(mosaicBoxes, mosaicStyle),
      ...boxplotDatasets(pascalBoxes, pascalStyle),
      refLine()
    ])
  },
  options: makeOptions('(a) BELUGA anisotropy for variances', 56, 19),
  plugins: [framePlugin]
});

new Chart(document.getElementById('chartB'), {
  type: 'scatter',
  data: {
    datasets: stackOrder([
      ...boxplotDatasets(epsBoxes, epsStyle),
      ...boxplotDatasets(sigmaBoxes, sigmaStyle),
      refLine(),
      fitLine(fitEps, '#1f77b4'),
      fitLine(fitSigma, '#d62728')
    ])
  },
  options: makeOptions('(b) BELUGA anisotropy: all flights 2017 and 2020', 61, 8),
  plugins: [framePlugin]
});
</script>
</body>
</html>
